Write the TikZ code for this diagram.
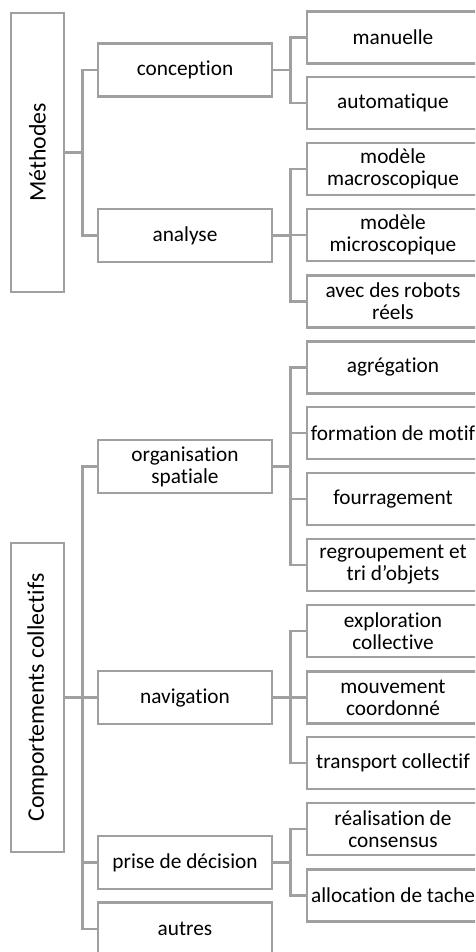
\documentclass[tikz,border=0pt]{standalone}
\usepackage{fontspec}
\usepackage{graphicx}
\setmainfont{Carlito}[Ligatures={NoCommon}]
\definecolor{boxgray}{RGB}{160,160,160}
\begin{document}
\begin{tikzpicture}[x=1pt,y=-1pt,
  box/.style={draw=boxgray, line width=2.5pt, fill=white, rectangle, inner sep=0pt, align=center,
    font=\fontsize{21.3}{22}\selectfont},
  rootbox/.style={box, minimum width=53pt, minimum height=#1, font=\fontsize{23.8}{25}\selectfont},
  midbox/.style={box, minimum width=174pt, minimum height=53pt},
  leafbox/.style={box, minimum width=172pt, minimum height=52pt},
  conn/.style={draw=boxgray, line width=2.5pt}
]
\useasboundingbox (0,0) rectangle (475,952);
\clip (0,0) rectangle (475,952);

% roots
\node[rootbox=279pt] (meth) at (37.5,152.5) {\rotatebox{90}{Méthodes}};
\node[rootbox=309pt] (comp) at (37.5,697.5) {\rotatebox{90}{Comportements collectifs}};

% level 2
\node[midbox] (conc) at (185,70) {conception};
\node[midbox] (anal) at (185,235.5) {analyse};
\node[midbox] (orga) at (185,466.5) {organisation\\spatiale};
\node[midbox] (navi) at (185,697.5) {navigation};
\node[midbox] (prise) at (185,862.5) {prise de décision};
\node[midbox] (autr) at (185,929) {autres};

% leaves
\node[leafbox] (manu) at (393,37.5) {manuelle};
\node[leafbox] (auto) at (393,103) {automatique};
\node[leafbox] (macro) at (393,169) {modèle\\macroscopique};
\node[leafbox] (micro) at (393,235) {modèle\\microscopique};
\node[leafbox] (reel) at (393,301.5) {avec des robots\\réels};
\node[leafbox] (agre) at (393,367.5) {agrégation};
\node[leafbox] (form) at (393,433) {formation de motif};
\node[leafbox] (four) at (393,499) {fourragement};
\node[leafbox] (regr) at (393,565) {regroupement et\\tri d’objets};
\node[leafbox] (expl) at (393,631) {exploration\\collective};
\node[leafbox] (mouv) at (393,697.5) {mouvement\\coordonné};
\node[leafbox] (tran) at (393,763) {transport collectif};
\node[leafbox] (cons) at (393,829) {réalisation de\\consensus};
\node[leafbox] (allo) at (393,895.5) {allocation de tache};

% connectors
\foreach \c in {conc,anal} \draw[conn] (meth.east) -- ++(17,0) |- (\c.west);
\foreach \c in {orga,navi,prise,autr} \draw[conn] (comp.east) -- ++(17,0) |- (\c.west);
\foreach \c in {manu,auto} \draw[conn] (conc.east) -- ++(17,0) |- (\c.west);
\foreach \c in {macro,micro,reel} \draw[conn] (anal.east) -- ++(17,0) |- (\c.west);
\foreach \c in {agre,form,four,regr} \draw[conn] (orga.east) -- ++(17,0) |- (\c.west);
\foreach \c in {expl,mouv,tran} \draw[conn] (navi.east) -- ++(17,0) |- (\c.west);
\foreach \c in {cons,allo} \draw[conn] (prise.east) -- ++(17,0) |- (\c.west);
\end{tikzpicture}
\end{document}
